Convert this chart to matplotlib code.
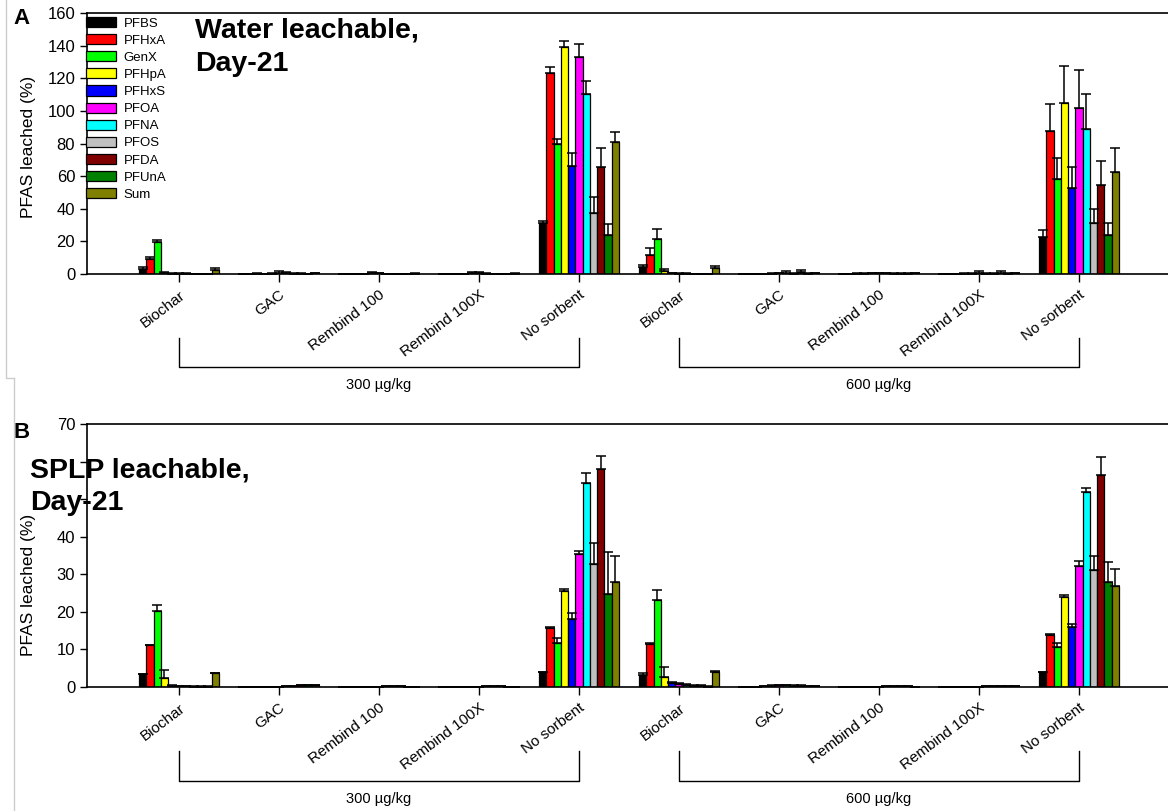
import numpy as np
import matplotlib
matplotlib.use("Agg")
import matplotlib.pyplot as plt
from matplotlib.lines import Line2D

plt.rcParams['font.family'] = ['Liberation Sans', 'DejaVu Sans']

compounds = ["PFBS", "PFHxA", "GenX", "PFHpA", "PFHxS", "PFOA", "PFNA",
             "PFOS", "PFDA", "PFUnA", "Sum"]
colors = ["#000000", "#ff0000", "#00ff00", "#ffff00", "#0000ff", "#ff00ff",
          "#00ffff", "#c0c0c0", "#800000", "#008000", "#808000"]
sorbents = ["Biochar", "GAC", "Rembind 100", "Rembind 100X", "No sorbent"]
doses = ["300 µg/kg", "600 µg/kg"]

# water leachable, day 21 (% leached, mean and SD per compound)
water_biochar_300 = [3.0, 9.2, 19.8, 0.8, 0.3, 0.3, 0.2, 0.2, 0.2, 0.2, 2.6]
water_biochar_300_err = [1.0, 1.4, 1.1, 0.6, 0.2, 0.2, 0.2, 0.1, 0.1, 0.1, 1.3]
water_gac_300 = [0.2, 0.2, 0.3, 0.2, 0.3, 0.8, 0.6, 0.3, 0.3, 0.2, 0.4]
water_gac_300_err = [0.1, 0.1, 0.2, 0.1, 0.3, 1.0, 0.8, 0.3, 0.2, 0.1, 0.3]
water_rb100_300 = [0.2, 0.2, 0.2, 0.2, 0.5, 0.4, 0.2, 0.2, 0.2, 0.2, 0.3]
water_rb100_300_err = [0.1, 0.1, 0.1, 0.1, 0.8, 0.5, 0.1, 0.1, 0.1, 0.1, 0.1]
water_rb100x_300 = [0.2, 0.2, 0.2, 0.2, 0.4, 0.5, 0.3, 0.2, 0.2, 0.2, 0.3]
water_rb100x_300_err = [0.1, 0.1, 0.1, 0.1, 0.8, 0.9, 0.6, 0.1, 0.1, 0.1, 0.1]
water_none_300 = [31.1, 123.5, 79.7, 139.4, 66.4, 133.3, 110.2, 37.6, 65.5, 23.9, 81.2]
water_none_300_err = [1.6, 3.7, 3.0, 3.5, 7.6, 7.6, 8.3, 9.4, 12.0, 6.7, 6.1]
water_biochar_600 = [4.5, 11.7, 21.5, 1.8, 0.4, 0.3, 0.3, 0.2, 0.2, 0.2, 3.5]
water_biochar_600_err = [0.8, 4.5, 6.0, 1.1, 0.2, 0.1, 0.1, 0.1, 0.1, 0.1, 1.6]
water_gac_600 = [0.2, 0.2, 0.2, 0.2, 0.3, 0.4, 0.8, 0.3, 1.2, 0.3, 0.4]
water_gac_600_err = [0.1, 0.1, 0.1, 0.1, 0.2, 0.3, 1.2, 0.2, 1.5, 0.2, 0.2]
water_rb100_600 = [0.2, 0.2, 0.3, 0.3, 0.5, 0.5, 0.4, 0.3, 0.3, 0.3, 0.4]
water_rb100_600_err = [0.1, 0.1, 0.1, 0.1, 0.3, 0.3, 0.2, 0.1, 0.1, 0.1, 0.1]
water_rb100x_600 = [0.2, 0.2, 0.2, 0.3, 0.3, 0.6, 0.3, 0.3, 0.8, 0.3, 0.4]
water_rb100x_600_err = [0.1, 0.1, 0.1, 0.1, 0.2, 1.0, 0.2, 0.2, 1.2, 0.2, 0.2]
water_none_600 = [22.9, 87.9, 58.1, 104.7, 52.6, 101.8, 88.8, 31.1, 54.6, 23.9, 62.4]
water_none_600_err = [4.0, 16.4, 12.9, 22.9, 12.9, 23.0, 21.8, 9.0, 14.9, 7.6, 14.7]

# SPLP leachable, day 21
splp_biochar_300 = [3.4, 11.1, 20.1, 2.3, 0.3, 0.2, 0.2, 0.1, 0.1, 0.1, 3.8]
splp_biochar_300_err = [0.0, 0.2, 1.7, 2.1, 0.1, 0.1, 0.1, 0.1, 0.1, 0.1, 0.0]
splp_gac_300 = [0.1, 0.1, 0.1, 0.1, 0.1, 0.1, 0.2, 0.2, 0.5, 0.5, 0.4]
splp_gac_300_err = [0.0, 0.0, 0.0, 0.0, 0.0, 0.0, 0.1, 0.1, 0.1, 0.1, 0.1]
splp_rb100_300 = [0.1, 0.1, 0.1, 0.1, 0.1, 0.1, 0.2, 0.2, 0.2, 0.1, 0.1]
splp_rb100_300_err = [0.0, 0.0, 0.0, 0.0, 0.0, 0.0, 0.1, 0.1, 0.1, 0.0, 0.0]
splp_rb100x_300 = [0.1, 0.1, 0.1, 0.1, 0.1, 0.1, 0.2, 0.2, 0.2, 0.1, 0.1]
splp_rb100x_300_err = [0.0, 0.0, 0.0, 0.0, 0.0, 0.0, 0.1, 0.1, 0.1, 0.0, 0.0]
splp_none_300 = [4.1, 15.6, 11.8, 25.6, 18.2, 35.5, 54.2, 32.7, 57.9, 24.7, 27.9]
splp_none_300_err = [0.0, 0.5, 1.2, 0.5, 1.6, 0.7, 2.8, 5.5, 3.5, 11.1, 7.0]
splp_biochar_600 = [3.2, 11.5, 23.2, 2.6, 1.1, 0.8, 0.5, 0.3, 0.3, 0.1, 4.1]
splp_biochar_600_err = [0.6, 0.3, 2.5, 2.8, 0.1, 0.3, 0.2, 0.1, 0.1, 0.1, 0.1]
splp_gac_600 = [0.1, 0.1, 0.1, 0.2, 0.3, 0.4, 0.4, 0.3, 0.3, 0.2, 0.2]
splp_gac_600_err = [0.0, 0.0, 0.0, 0.1, 0.1, 0.1, 0.1, 0.1, 0.1, 0.1, 0.1]
splp_rb100_600 = [0.1, 0.1, 0.1, 0.1, 0.1, 0.1, 0.2, 0.2, 0.2, 0.2, 0.1]
splp_rb100_600_err = [0.0, 0.0, 0.0, 0.0, 0.0, 0.0, 0.1, 0.1, 0.1, 0.0, 0.0]
splp_rb100x_600 = [0.1, 0.1, 0.1, 0.1, 0.1, 0.1, 0.2, 0.2, 0.2, 0.2, 0.2]
splp_rb100x_600_err = [0.0, 0.0, 0.0, 0.0, 0.0, 0.0, 0.1, 0.1, 0.1, 0.0, 0.0]
splp_none_600 = [3.9, 13.8, 10.7, 23.9, 16.1, 32.2, 51.8, 31.1, 56.4, 27.9, 26.9]
splp_none_600_err = [0.0, 0.3, 1.1, 0.5, 0.7, 1.4, 1.1, 3.8, 4.9, 5.4, 4.5]

water_means = np.array([water_biochar_300, water_gac_300, water_rb100_300, water_rb100x_300, water_none_300,
                        water_biochar_600, water_gac_600, water_rb100_600, water_rb100x_600, water_none_600])
water_errs = np.array([water_biochar_300_err, water_gac_300_err, water_rb100_300_err, water_rb100x_300_err,
                       water_none_300_err, water_biochar_600_err, water_gac_600_err, water_rb100_600_err,
                       water_rb100x_600_err, water_none_600_err])
splp_means = np.array([splp_biochar_300, splp_gac_300, splp_rb100_300, splp_rb100x_300, splp_none_300,
                       splp_biochar_600, splp_gac_600, splp_rb100_600, splp_rb100x_600, splp_none_600])
splp_errs = np.array([splp_biochar_300_err, splp_gac_300_err, splp_rb100_300_err, splp_rb100x_300_err,
                      splp_none_300_err, splp_biochar_600_err, splp_gac_600_err, splp_rb100_600_err,
                      splp_rb100x_600_err, splp_none_600_err])

W, H = 1168, 811
fig = plt.figure(figsize=(W / 100, H / 100), dpi=100)


def fx(px):
    return px / W


def fy(py):
    return 1 - py / H


def draw_panel(ax, means, errs, ymax, ystep, label_y):
    n_groups, n_comp = means.shape
    x = np.arange(n_groups)
    width = 0.8 / n_comp
    for i in range(n_comp):
        pos = x + (i - (n_comp - 1) / 2) * width
        ax.bar(pos, means[:, i], width, color=colors[i], edgecolor="black", linewidth=0.9,
               label=compounds[i], zorder=2,
               yerr=[np.zeros(n_groups), errs[:, i]],
               error_kw=dict(ecolor="black", elinewidth=1.1, capsize=3.8, capthick=1.1, zorder=3))
    ax.set_xlim(-0.92, 9.89)
    ax.set_ylim(0, ymax)
    ax.set_yticks(np.arange(0, ymax + 1, ystep))
    ax.set_xticks(x)
    ax.set_xticklabels(sorbents * 2, rotation=37, ha="right", va="top",
                       rotation_mode="anchor", fontsize=11)
    ax.tick_params(axis="y", labelsize=12, direction="out", length=5, width=1)
    ax.tick_params(axis="x", direction="out", length=6, width=1, pad=4)
    ax.spines["right"].set_visible(False)
    for s in ["left", "bottom", "top"]:
        ax.spines[s].set_linewidth(1.2)
    ax.set_ylabel("PFAS leached (%)", fontsize=12.5)
    ax.yaxis.set_label_coords(-0.047, label_y)

    # dose brackets below the sorbent labels
    trans = ax.get_xaxis_transform()
    for k, dose in enumerate(doses):
        x0, x1 = 5 * k, 5 * k + 4
        ax.add_line(Line2D([x0, x0, x1, x1], [-0.245, -0.358, -0.358, -0.245],
                           transform=trans, color="black", lw=1, clip_on=False))
        ax.text((x0 + x1) / 2, -0.425, dose, transform=trans, ha="center", va="center",
                fontsize=10.5)


ax_a = fig.add_axes([fx(87), fy(274), 1 - fx(87), (274 - 13) / H])
draw_panel(ax_a, water_means, water_errs, 160, 20, 0.487)
ax_b = fig.add_axes([fx(87), fy(687), 1 - fx(87), (687 - 424) / H])
draw_panel(ax_b, splp_means, splp_errs, 70, 10, 0.388)

# the SPLP caption sits over the 50 and 60 tick labels
for lbl in ax_b.get_yticklabels():
    if lbl.get_text() in ("50", "60"):
        lbl.set_visible(False)

ax_a.legend(loc="upper left", bbox_to_anchor=(fx(86), fy(17)), bbox_transform=fig.transFigure,
            frameon=False, fontsize=9.5, handlelength=2.3, handleheight=0.8, labelspacing=0.34,
            handletextpad=0.55, borderpad=0, borderaxespad=0)

fig.text(fx(22), fy(18), "A", fontsize=16, fontweight="bold", ha="center", va="center")
fig.text(fx(22), fy(432), "B", fontsize=16, fontweight="bold", ha="center", va="center")
fig.text(fx(195), fy(18), "Water leachable,\nDay-21", fontsize=20.5, fontweight="bold",
         ha="left", va="top", linespacing=1.35)
fig.text(fx(30), fy(457), "SPLP leachable,\nDay-21", fontsize=20.5, fontweight="bold",
         ha="left", va="top", linespacing=1.35)

# light frame lines at the left edge
frame_kw = dict(transform=fig.transFigure, color="#cccccc", lw=1)
fig.add_artist(Line2D([fx(6), fx(6), fx(14)], [1, fy(378), fy(378)], **frame_kw))
fig.add_artist(Line2D([fx(14), fx(14)], [fy(378), 0], **frame_kw))

fig.savefig("out.png", dpi=100)
